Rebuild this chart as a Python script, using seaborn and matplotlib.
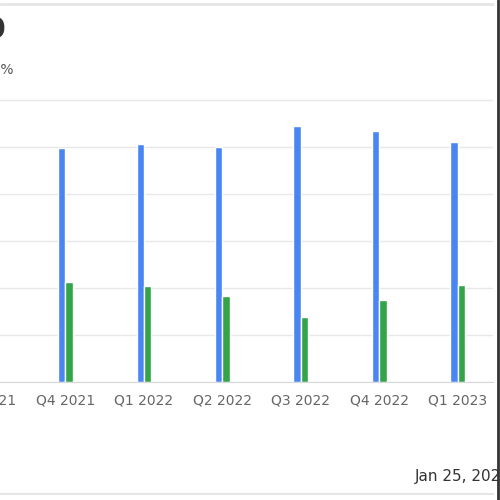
import pandas as pd
import matplotlib.pyplot as plt
import seaborn as sns
from matplotlib.lines import Line2D

# quarters shown on the x axis (the first one is cut off at the left edge)
quarters = ["Q3 2021", "Q4 2021", "Q1 2022", "Q2 2022", "Q3 2022", "Q4 2022", "Q1 2023"]
shown = ["Q4 2021", "Q1 2022", "Q2 2022", "Q3 2022", "Q4 2022", "Q1 2023"]
blue_vals = [498, 506, 500, 544, 534, 510]
green_vals = [213, 204, 183, 138, 174, 206]
series_names = ["Series A", "Series B"]
y_ticks = [0, 100, 200, 300, 400, 500, 600]

df = pd.DataFrame({
    "quarter": shown * 2,
    "value": blue_vals + green_vals,
    "series": [series_names[0]] * len(shown) + [series_names[1]] * len(shown),
})

sns.set_style("white")
plt.rcParams["font.family"] = ["DejaVu Sans"]

fig = plt.figure(figsize=(5, 5), dpi=100)
ax = fig.add_axes([-0.1045, 0.236, 1.091, 0.5734])

sns.barplot(data=df, x="quarter", y="value", hue="series", order=quarters,
            palette=["#4a86f2", "#34a448"], width=0.19, gap=0, dodge=True,
            saturation=1, legend=False, ax=ax)

ax.set_xlim(-0.5, 6.45)
ax.set_ylim(0, 610)
ax.set_yticks(y_ticks)
ax.yaxis.grid(True, color="#e8e8e8", linewidth=1)
ax.set_axisbelow(True)
for s in ["top", "right", "left"]:
    ax.spines[s].set_visible(False)
ax.spines["bottom"].set_color("#d8d8d8")
ax.tick_params(axis="y", left=False, labelleft=False)
ax.tick_params(axis="x", bottom=False, labelsize=10, labelcolor="#666666", pad=5)
ax.set_xlabel("")
ax.set_ylabel("")

# cut-off title and subtitle at the left edge
fig.text(0.012, 0.94, "Revenue 2020", ha="right", va="center", fontsize=20,
         fontweight="bold", color="#333333")
fig.text(0.027, 0.86, "Growth%", ha="right", va="center", fontsize=10, color="#555555")

# date stamp at bottom right
fig.text(0.83, 0.046, "Jan 25, 2023", ha="left", va="center", fontsize=11, color="#333333")

# frame lines
fig.add_artist(Line2D([0, 0.986], [0.992, 0.992], color="#e6e6e6", linewidth=2))
fig.add_artist(Line2D([0, 0.986], [0.013, 0.013], color="#e6e6e6", linewidth=1.5))
fig.add_artist(Line2D([0.995, 0.995], [0, 1], color="#333333", linewidth=2))

fig.savefig("out.png", dpi=100)
plt.close()
